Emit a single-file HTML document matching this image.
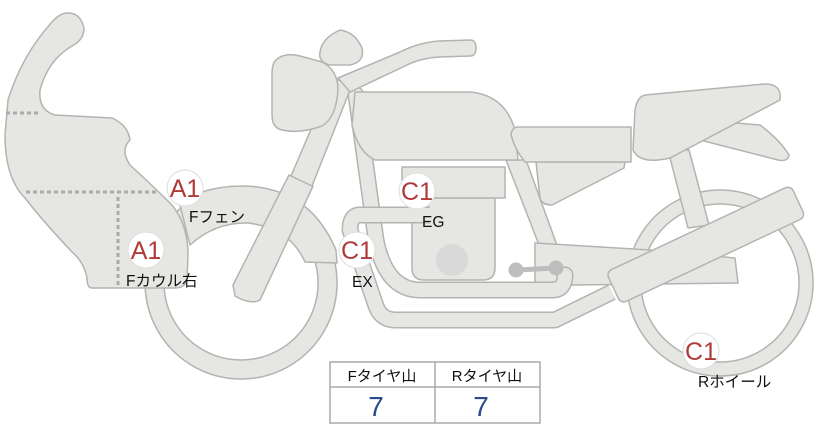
<!DOCTYPE html>
<html><head><meta charset="utf-8"><style>
body{margin:0;background:#fff;width:822px;height:425px;overflow:hidden}
svg{display:block}
text{font-family:"Liberation Sans","Noto Sans CJK JP",sans-serif}
</style></head><body>
<svg width="822" height="425" viewBox="0 0 822 425">
<g fill="#e6e6e3" stroke="#b3b3b3" stroke-width="1.5" stroke-linejoin="round">
<!-- rear wheel -->
<path fill-rule="evenodd" d="M720,190a93,93 0 1,0 0.1,0Z M720,204a79,79 0 1,0 0.1,0Z"/>
<!-- front wheel -->
<path fill-rule="evenodd" d="M241,187a96,96 0 1,0 0.1,0Z M241,206a77,77 0 1,0 0.1,0Z"/>
<!-- front fender -->
<path d="M180,205 Q200,186 245,186 Q310,188 336,250 L337,263 L305,262 Q290,228 248,223 Q215,222 190,245 Z"/>
<!-- tail fin -->
<path d="M700,120 L760,125 Q780,140 789,155 Q788,162 778,160 L700,140 Z"/>
<!-- rear shock -->
<path d="M668,150 L689,150 L709,225 L688,228 Z"/>
<!-- frame rear vertical -->
<path d="M506,160 L526,160 L558,248 L541,250 Z"/>
<!-- swingarm -->
<path d="M535,243 L650,250 L735,258 L738,283 L570,285 L535,285 Z"/>
<!-- engine -->
<path d="M412,198 L495,198 L495,268 Q495,280 483,280 L424,280 Q412,280 412,268 Z"/>
<rect x="402" y="167" width="103" height="31"/>
<!-- side cover -->
<path d="M536,162 L625,162 L624,168 L552,205 Q542,205 540,198 Z"/>
</g>
<!-- tubes -->
<g fill="none" stroke-linecap="round" stroke-linejoin="round">
<path d="M356,95 L376,240 Q386,290 420,290 L552,290 Q565,290 565,275" stroke="#b3b3b3" stroke-width="17"/>
<path d="M356,95 L376,240 Q386,290 420,290 L552,290 Q565,290 565,275" stroke="#e6e6e3" stroke-width="14"/>
<path d="M430,215 L360,215 Q350,215 350,230 L376,306 Q381,320 396,320 L555,320 L612,292" stroke="#b3b3b3" stroke-width="17" stroke-linecap="butt"/>
<path d="M430,215 L360,215 Q350,215 350,230 L376,306 Q381,320 396,320 L555,320 L612,292" stroke="#e6e6e3" stroke-width="14" stroke-linecap="butt"/>
</g>
<g fill="#e6e6e3" stroke="#b3b3b3" stroke-width="1.5" stroke-linejoin="round">
<!-- fork lower -->
<path d="M233,285 L289,175 L313,186 L260,300 Q250,305 235,296 Z"/>
<!-- fork upper -->
<path d="M291,176 L333,78 L352,85 L312,186 Z"/>
<!-- handlebar -->
<path d="M338,78 L400,52 Q420,42 440,41 L470,40 Q476,40 476,48 Q476,56 470,56 L440,57 Q420,58 405,66 L350,92 Z"/>
<!-- meter -->
<path d="M320,52 Q322,38 340,30 Q355,32 362,48 Q365,62 350,65 L330,65 Q318,62 320,52 Z"/>
<!-- headlight -->
<path d="M276,60 Q285,52 300,56 L322,62 Q338,70 338,90 Q336,118 322,126 Q300,134 282,130 Q272,128 272,115 L272,75 Q272,63 276,60 Z"/>
<!-- tank -->
<path d="M355,92 L470,92 Q505,95 515,130 L518,160 L375,160 Q358,152 352,125 Z"/>
<!-- seat front -->
<path d="M518,127 L631,127 L631,162 L525,162 Q515,150 511,135 Q512,127 518,127 Z"/>
<!-- seat rear -->
<path d="M645,95 L765,84 Q782,84 780,100 L670,158 Q640,165 633,150 L635,110 Q637,97 645,95 Z"/>
<!-- muffler -->
<rect x="604" y="227" width="204" height="35" rx="6" transform="rotate(-25.2 706 245)"/>
<!-- cowl -->
<path d="M67,13 Q80,12 84,28 Q84,40 72,46 Q48,60 40,90 Q38,110 55,115 L112,118 Q128,125 130,140 Q120,150 130,165 Q155,188 172,205 Q188,225 188,255 L187,280 Q185,288 175,288 L92,288 Q87,288 87,278 Q84,262 72,252 Q42,220 25,198 Q5,178 5,135 L8,100 Q22,55 52,22 Q60,13 67,13 Z"/>
</g>
<g stroke="#aaa" stroke-width="3" stroke-dasharray="4 3" fill="none">
<path d="M6,113 H40"/><path d="M26,192 H158"/><path d="M118,197 V286"/>
</g>
<circle cx="452" cy="260" r="16" fill="#d9d9d9"/>
<g stroke="#bdbdbd" fill="#bdbdbd">
<line x1="518" y1="270" x2="555" y2="268" stroke-width="5"/>
<circle cx="516" cy="270" r="7"/><circle cx="556" cy="268" r="7"/>
</g>
<!-- badges -->
<g font-size="25" fill="#b03a3a" text-anchor="middle">
<circle cx="185" cy="188" r="18" fill="#fff" stroke="#ddd"/><text x="185" y="197">A1</text>
<circle cx="146" cy="250" r="18" fill="#fff" stroke="#ddd"/><text x="146" y="259">A1</text>
<circle cx="357" cy="250" r="18" fill="#fff" stroke="#ddd"/><text x="357" y="259">C1</text>
<circle cx="417" cy="191" r="18" fill="#fff" stroke="#ddd"/><text x="417" y="200">C1</text>
<circle cx="701" cy="351" r="18" fill="#fff" stroke="#ddd"/><text x="701" y="360">C1</text>
</g>
<g font-size="15.5" fill="#111">
<text x="189" y="222">Fフェン</text>
<text x="126" y="286">Fカウル右</text>
<text x="352" y="287">EX</text>
<text x="422" y="227">EG</text>
<text x="698" y="387">Rホイール</text>
</g>
<!-- table -->
<g fill="#fff" stroke="#aaa" stroke-width="1.5">
<rect x="330" y="362" width="210" height="61"/>
<line x1="330" y1="387" x2="540" y2="387"/>
<line x1="435" y1="362" x2="435" y2="423"/>
</g>
<g font-size="15" fill="#111" text-anchor="middle">
<text x="382" y="381">Fタイヤ山</text><text x="487" y="381">Rタイヤ山</text>
</g>
<g font-size="28" fill="#2a4a8a" text-anchor="middle">
<text x="376" y="416">7</text><text x="481" y="416">7</text>
</g>
</svg>
</body></html>
